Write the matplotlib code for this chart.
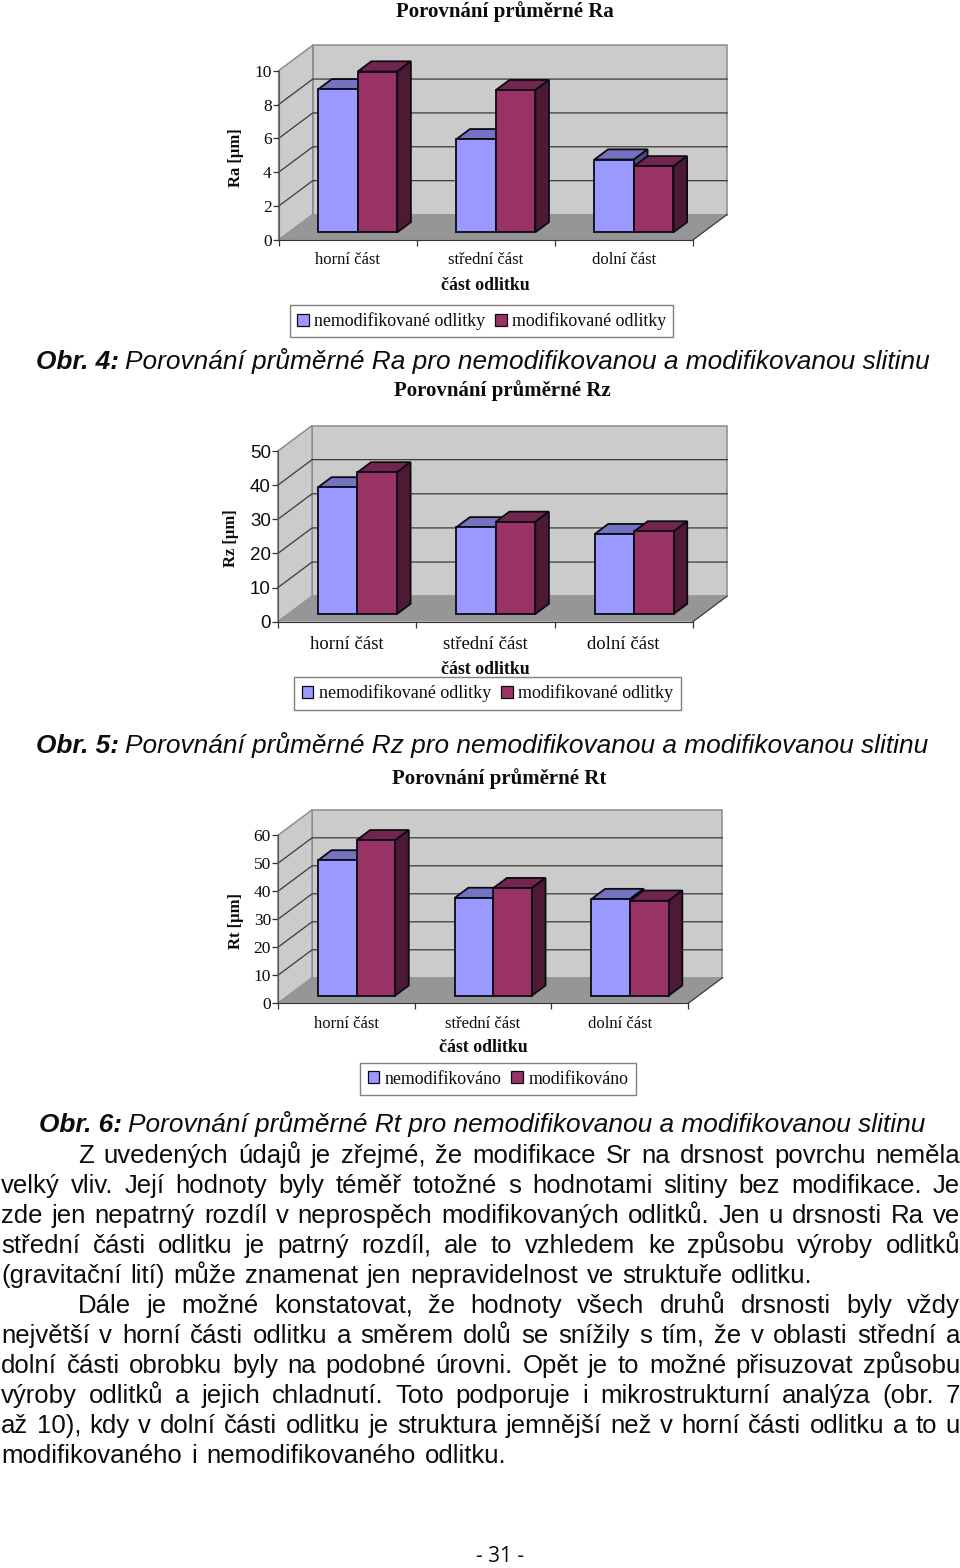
import matplotlib
matplotlib.use("Agg")
import matplotlib.pyplot as plt
from matplotlib.patches import Polygon, Patch

W, H = 960, 1568
SERIF = "Liberation Serif"
SANS = "Liberation Sans"

categories = ["horní část", "střední část", "dolní část"]
xlabel = "část odlitku"

ra_plain = [8.45, 5.5, 4.3]
ra_mod = [9.5, 8.4, 3.9]
rz_plain = [37.1, 25.4, 23.4]
rz_mod = [41.5, 27.0, 24.2]
rt_plain = [48.3, 34.9, 34.5]
rt_mod = [55.5, 38.4, 33.9]

ra_ticks = [0, 2, 4, 6, 8, 10]
rz_ticks = [0, 10, 20, 30, 40, 50]
rt_ticks = [0, 10, 20, 30, 40, 50, 60]

captions = [
    ("Obr. 4:", "Porovnání průměrné Ra pro nemodifikovanou a modifikovanou slitinu", 36, 369),
    ("Obr. 5:", "Porovnání průměrné Rz pro nemodifikovanou a modifikovanou slitinu", 36, 753),
    ("Obr. 6:", "Porovnání průměrné Rt pro nemodifikovanou a modifikovanou slitinu", 39, 1132),
]
paragraph = [
    ("Z uvedených údajů je zřejmé, že modifikace Sr na drsnost povrchu neměla", 78, 960),
    ("velký vliv. Její hodnoty byly téměř totožné s hodnotami slitiny bez modifikace. Je", 1, 960),
    ("zde jen nepatrný rozdíl v neprospěch modifikovaných odlitků. Jen u drsnosti Ra ve", 1, 960),
    ("střední části odlitku je patrný rozdíl, ale to vzhledem ke způsobu výroby odlitků", 1, 960),
    ("(gravitační lití) může znamenat jen nepravidelnost ve struktuře odlitku.", 1, 813),
    ("Dále je možné konstatovat, že hodnoty všech druhů drsnosti byly vždy", 78, 960),
    ("největší v horní části odlitku a směrem dolů se snížily s tím, že v oblasti střední a", 1, 960),
    ("dolní části obrobku byly na podobné úrovni. Opět je to možné přisuzovat způsobu", 1, 960),
    ("výroby odlitků a jejich chladnutí. Toto podporuje i mikrostrukturní analýza (obr. 7", 1, 960),
    ("až 10), kdy v dolní části odlitku je struktura jemnější než v horní části odlitku a to u", 1, 960),
    ("modifikovaného i nemodifikovaného odlitku.", 1, 507),
]

COL_PLAIN = ("#9999FF", "#7373BF", "#4D4D80")
COL_MOD = ("#993366", "#73264D", "#4D1933")
EDGE = "#0A0A14"
INK = "#0C0C0C"

fig = plt.figure(figsize=(W / 100, H / 100), dpi=100, facecolor="white")
rend = fig.canvas.get_renderer()


def fx(x):
    return x / W


def fy(y):
    return 1 - y / H


def chart(title, title_xy, ylab, ylab_x, vals_a, vals_b, ticks, names, left, right, y0, ytop, bar_x, bar_w,
          tick_font, tick_size, cat_size, cat_pad, xl_pad, legend_xy, legend_size, col_space):
    ax = fig.add_axes([fx(left), fy(y0), (right - left) / W, (y0 - ytop) / H])
    ymax = ticks[-1]
    ax.set_xlim(0, 3)
    ax.set_ylim(0, ymax)
    ax.patch.set_visible(False)
    gw = (right - left) / 3
    uy = (y0 - ytop) / ymax
    ddx, ddy = 34.2 / gw, 25.5 / uy

    def P(x, y, z):
        return (x + z * ddx, y + z * ddy)

    def poly(pts, fc, ec="none", lw=0.0, z=1):
        ax.add_patch(Polygon(pts, closed=True, facecolor=fc, edgecolor=ec, linewidth=lw,
                             clip_on=False, zorder=z, joinstyle="miter"))

    # walls and floor
    poly([P(0, 0, 1), P(3, 0, 1), P(3, ymax, 1), P(0, ymax, 1)], "#CBCBCB", "#8C8C8C", 1.1)
    poly([P(0, 0, 0), P(0, 0, 1), P(0, ymax, 1), P(0, ymax, 0)], "#CBCBCB", "#8C8C8C", 1.1)
    for t in ticks[1:-1]:
        ax.plot(*zip(P(0, t, 0), P(0, t, 1), P(3, t, 1)), color="#3A3A3A", lw=0.9, clip_on=False, zorder=1.5)
    poly([P(0, 0, 0), P(3, 0, 0), P(3, 0, 1), P(0, 0, 1)], "#969696", "none", 0, 1.6)
    ax.plot(*zip(P(3, 0, 0), P(3, 0, 1)), color="#3A3A3A", lw=0.9, clip_on=False, zorder=1.7)

    # bars
    bw = bar_w / gw
    zf, zb = 0.3, 0.7
    off = (bar_x - left - 0.3 * 34.2) / gw
    for i in range(3):
        for k, (vals, cols) in enumerate(((vals_a, COL_PLAIN), (vals_b, COL_MOD))):
            x0 = i + off + k * bw
            x1 = x0 + bw
            v = vals[i]
            zz = 3 + i + k * 0.1
            poly([P(x0, v, zf), P(x1, v, zf), P(x1, v, zb), P(x0, v, zb)], cols[1], EDGE, 1.3, zz)
            poly([P(x1, 0, zf), P(x1, 0, zb), P(x1, v, zb), P(x1, v, zf)], cols[2], EDGE, 1.3, zz)
            poly([P(x0, 0, zf), P(x1, 0, zf), P(x1, v, zf), P(x0, v, zf)], cols[0], EDGE, 1.3, zz)

    # axes
    for s in ("top", "right"):
        ax.spines[s].set_visible(False)
    ax.spines["bottom"].set_color("#333333")
    ax.spines["left"].set_color("#555555")
    ax.spines["bottom"].set_zorder(2)
    ax.spines["left"].set_zorder(2)
    ax.set_yticks(ticks)
    ax.set_yticklabels([str(t) for t in ticks], family=tick_font, fontsize=tick_size, color=INK)
    ax.tick_params(axis="y", length=4, width=0.9, pad=1, color="#333333")
    ax.set_xticks([0, 1, 2, 3])
    ax.set_xticklabels([])
    ax.set_xticks([0.5, 1.5, 2.5], minor=True)
    ax.set_xticklabels(categories, minor=True, family=SERIF, fontsize=cat_size, color=INK)
    ax.tick_params(axis="x", which="major", length=4, width=0.9, color="#333333")
    ax.tick_params(axis="x", which="minor", length=0, pad=cat_pad)
    ax.set_xlabel(xlabel, family=SERIF, fontweight="bold", fontsize=12.8, labelpad=xl_pad, color=INK)

    fig.text(fx(title_xy[0]), fy(title_xy[1]), title, family=SERIF, fontweight="bold", fontsize=15,
             ha="center", va="center", color=INK)
    fig.text(fx(ylab_x), fy((y0 + ytop) / 2 + 2), ylab, family=SERIF, fontweight="bold", fontsize=12,
             rotation=90, ha="center", va="center", color=INK)

    handles = [Patch(facecolor=COL_PLAIN[0], edgecolor=EDGE, linewidth=0.9),
               Patch(facecolor=COL_MOD[0], edgecolor=EDGE, linewidth=0.9)]
    leg = fig.legend(handles, names, loc="center",
                     bbox_to_anchor=(fx(legend_xy[0]), fy(legend_xy[1])),
                     ncol=2, fancybox=False, framealpha=1, edgecolor="#808080",
                     prop={"family": SERIF, "size": legend_size}, handlelength=0.65, handleheight=0.65,
                     handletextpad=0.3, columnspacing=col_space, borderpad=0.4, borderaxespad=0)
    leg.get_frame().set_linewidth(1.0)
    for t in leg.get_texts():
        t.set_color(INK)


names_long = ["nemodifikované odlitky", "modifikované odlitky"]
chart("Porovnání průměrné Ra", (505, 12), "Ra [µm]", 236, ra_plain, ra_mod, ra_ticks, names_long,
      278.6, 692.9, 240, 70.7, 318.2, 39.5, SERIF, 12.5, 12, 9, 6, (481.5, 321), 12.9, 0.55)
chart("Porovnání průměrné Rz", (502, 391), "Rz [µm]", 231, rz_plain, rz_mod, rz_ticks, names_long,
      277.9, 692.9, 621.7, 451, 317.9, 39.5, SANS, 13.5, 13.5, 10, 6, (487.5, 693.5), 13, 0.55)
chart("Porovnání průměrné Rt", (499, 779), "Rt [µm]", 236, rt_plain, rt_mod, rt_ticks,
      ["nemodifikováno", "modifikováno"],
      277.9, 688.2, 1003.3, 835.3, 317.9, 38.6, SERIF, 12.5, 12, 9, 5, (498, 1079), 12.9, 0.55)

FS_CAP = 18.9
FS = 18.5


def width(t):
    return t.get_window_extent(rend).width


def line(text, x0, x1, y):
    """Place the words of one line, spread evenly between x0 and x1."""
    words = text.split(" ")
    arts = [fig.text(fx(x0), fy(y), w, family=SANS, fontsize=FS, color=INK, va="baseline")
            for w in words]
    ws = [width(a) for a in arts]
    gap = (x1 - x0 - sum(ws)) / max(1, len(words) - 1)
    x = x0
    for a, wd in zip(arts, ws):
        a.set_x(fx(x))
        x += wd + gap


for head, rest, x0, y in captions:
    h = fig.text(fx(x0), fy(y), head, family=SANS, fontsize=FS_CAP, fontweight="bold", style="italic",
                 color=INK, va="baseline")
    hw = width(h)
    fig.text(fx(x0 + hw + 6), fy(y), rest, family=SANS, fontsize=FS_CAP, style="italic", color=INK, va="baseline")

for i, (txt, x0, x1) in enumerate(paragraph):
    line(txt, x0, x1, 1163 + 30 * i)

fig.text(fx(500), fy(1557), "- 31 -", family=["Open Sans"], fontsize=15, color=INK, ha="center", va="center")

fig.savefig("out.png", dpi=100, facecolor="white")
